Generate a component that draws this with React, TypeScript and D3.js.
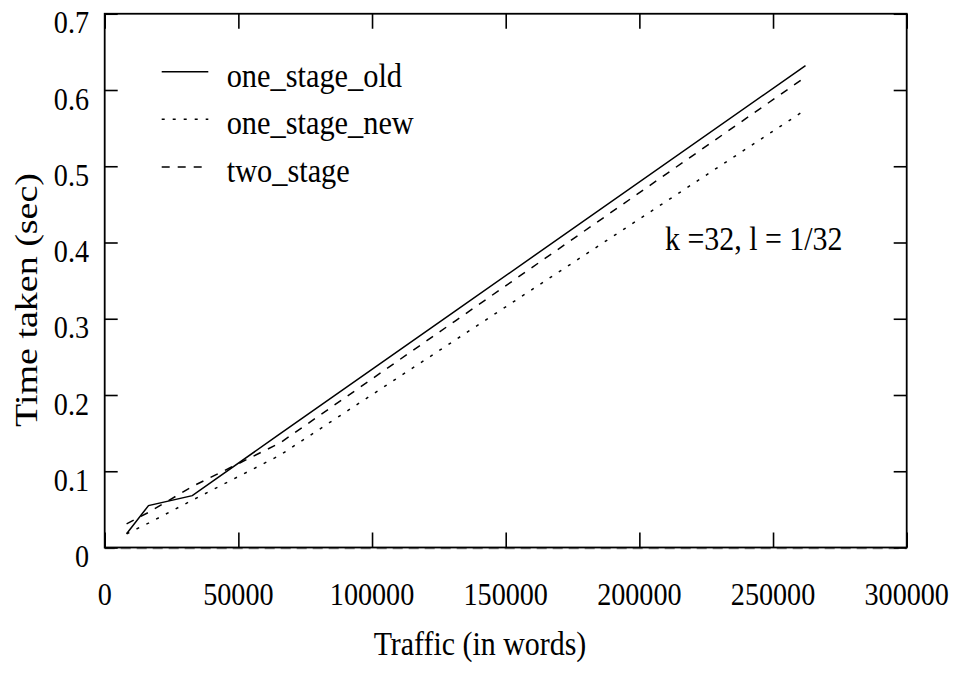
import * as d3 from 'd3';
import { useEffect, useRef } from 'react';

// traffic sizes (words) and measured times (sec)
const traffic = [8192, 16384, 32768, 65536, 131072, 262144];
const oneStageOld = [0.018, 0.055, 0.068, 0.149, 0.31, 0.632];
const oneStageNew = [0.018, 0.032, 0.062, 0.121, 0.272, 0.574];
const twoStage = [0.031, 0.046, 0.08, 0.137, 0.297, 0.617];

const xTicks = [0, 50000, 100000, 150000, 200000, 250000, 300000];
const yTicks = [0, 0.1, 0.2, 0.3, 0.4, 0.5, 0.6, 0.7];

const seriesNames = ['one_stage_old', 'one_stage_new', 'two_stage'];

const FONT = 'Liberation Serif, Tinos, Times, serif';
const SX = 0.88; // horizontal squeeze of the original lettering

export default function App() {
    const ref = useRef<SVGSVGElement>(null);

    useEffect(() => {
        const svg = d3.select(ref.current);
        svg.selectAll('*').remove();

        const left = 104.7, right = 906.7, top = 13.75, bottom = 547.5;

        const x = d3.scaleLinear().domain([0, 300000]).range([left, right]);
        const y = d3.scaleLinear().domain([0, 0.7]).range([bottom, top]);

        const dashes = ['none', '3,8', '8,8'];
        const series = [oneStageOld, oneStageNew, twoStage];

        // grey dashed zero line under the bottom frame
        svg.append('line')
            .attr('x1', left).attr('x2', right)
            .attr('y1', bottom + 1).attr('y2', bottom + 1)
            .attr('stroke', '#888').attr('stroke-width', 1.5)
            .attr('stroke-dasharray', '10,6');

        // ticks (inward) on all four sides
        const tickStyle = (g: any) => {
            g.select('.domain').remove();
            g.selectAll('line').attr('stroke', '#000').attr('stroke-width', 1.6);
            g.selectAll('text').remove();
        };
        svg.append('g').attr('transform', `translate(0,${bottom})`)
            .call(d3.axisBottom(x).tickValues(xTicks).tickSize(-15).tickSizeOuter(0)).call(tickStyle);
        svg.append('g').attr('transform', `translate(0,${top})`)
            .call(d3.axisTop(x).tickValues(xTicks).tickSize(-15).tickSizeOuter(0)).call(tickStyle);
        svg.append('g').attr('transform', `translate(${left},0)`)
            .call(d3.axisLeft(y).tickValues(yTicks).tickSize(-13).tickSizeOuter(0)).call(tickStyle);
        svg.append('g').attr('transform', `translate(${right},0)`)
            .call(d3.axisRight(y).tickValues(yTicks).tickSize(-13).tickSizeOuter(0)).call(tickStyle);

        // frame
        svg.append('rect')
            .attr('x', left).attr('y', top)
            .attr('width', right - left).attr('height', bottom - top)
            .attr('fill', 'none').attr('stroke', '#000').attr('stroke-width', 1.8);

        const label = (tx: number, ty: number, text: string, anchor: string, size: number) =>
            svg.append('text')
                .attr('transform', `translate(${tx},${ty}) scale(${SX},1)`)
                .attr('text-anchor', anchor)
                .attr('font-family', FONT)
                .attr('font-size', size)
                .text(text);

        xTicks.forEach((t) => label(x(t), 605, String(t), 'middle', 32));
        yTicks.forEach((t) => label(89, y(t) + 19.5, t === 0 ? '0' : t.toFixed(1), 'end', 32));

        // lines
        const line = d3.line<number>()
            .x((_, i) => x(traffic[i]))
            .y((d) => y(d));

        series.forEach((s, i) => {
            svg.append('path')
                .datum(s)
                .attr('d', line)
                .attr('fill', 'none')
                .attr('stroke', '#000')
                .attr('stroke-width', 1.5)
                .attr('stroke-dasharray', dashes[i]);
        });

        // legend
        seriesNames.forEach((name, i) => {
            const ly = 71.7 + i * 47.6;
            svg.append('line')
                .attr('x1', 161.7).attr('x2', 208.3)
                .attr('y1', ly).attr('y2', ly)
                .attr('stroke', '#000').attr('stroke-width', 1.5)
                .attr('stroke-dasharray', dashes[i]);
            label(226.7, ly + 15, name, 'start', 34.5);
        });

        // annotation
        label(665, 250, 'k =32, l = 1/32', 'start', 34);

        // axis titles
        label(480, 655, 'Traffic (in words)', 'middle', 34);
        svg.append('text')
            .attr('transform', `translate(37,300) rotate(-90) scale(1,0.82)`)
            .attr('text-anchor', 'middle')
            .attr('font-family', FONT)
            .attr('font-size', 38)
            .text('Time taken (sec)');
    }, []);

    return (
        <svg
            ref={ref}
            width={954}
            height={677}
            style={{ position: 'absolute', top: 0, left: 0, background: '#fff' }}
        />
    );
}
